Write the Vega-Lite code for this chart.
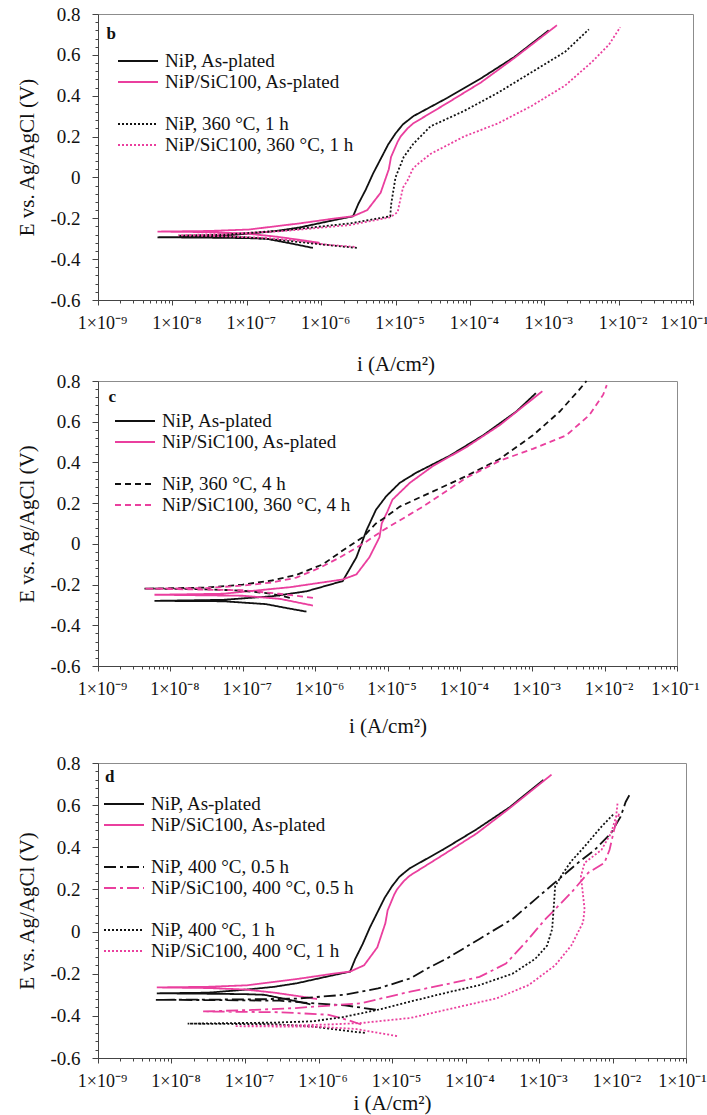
{
"$schema":"https://vega.github.io/schema/vega-lite/v6.json",
"padding":{"left":16,"top":4,"right":0,"bottom":2},
"config":{"font":"Liberation Serif","view":{"stroke":"#8c8c8c","strokeWidth":1},
"axis":{"grid":false,"domainColor":"#444","tickColor":"#444","labelColor":"#111","titleColor":"#111","labelFont":"Liberation Serif","titleFont":"Liberation Serif","labelFontSize":19,"titleFontSize":21,"titleFontWeight":"normal","labelFlush":false},
"axisX":{"labelFontSize":18},
"legend":{"labelFont":"Liberation Serif","labelFontSize":19,"labelColor":"#111","symbolType":"M-2,0H2","symbolSize":400,"symbolStrokeWidth":1.8,"rowPadding":0,"labelOffset":16,"padding":0,"labelLimit":400}},
"datasets":{
"b":[
{"s":"NiP, As-plated","o":1,"i":7.76e-7,"E":-0.345},{"s":"NiP, As-plated","o":2,"i":4.17e-7,"E":-0.325},{"s":"NiP, As-plated","o":3,"i":1.82e-7,"E":-0.30},{"s":"NiP, As-plated","o":4,"i":1e-7,"E":-0.297},{"s":"NiP, As-plated","o":5,"i":3.16e-8,"E":-0.295},{"s":"NiP, As-plated","o":6,"i":6.31e-9,"E":-0.293},{"s":"NiP, As-plated","o":7,"i":3.16e-8,"E":-0.29},{"s":"NiP, As-plated","o":8,"i":1.07e-7,"E":-0.275},{"s":"NiP, As-plated","o":9,"i":2.51e-7,"E":-0.262},{"s":"NiP, As-plated","o":10,"i":5.13e-7,"E":-0.245},{"s":"NiP, As-plated","o":11,"i":1.45e-6,"E":-0.21},{"s":"NiP, As-plated","o":12,"i":2.69e-6,"E":-0.19},{"s":"NiP, As-plated","o":13,"i":3.16e-6,"E":-0.13},{"s":"NiP, As-plated","o":14,"i":3.98e-6,"E":-0.06},{"s":"NiP, As-plated","o":15,"i":5.01e-6,"E":0.02},{"s":"NiP, As-plated","o":16,"i":6.31e-6,"E":0.09},{"s":"NiP, As-plated","o":17,"i":7.94e-6,"E":0.16},{"s":"NiP, As-plated","o":18,"i":1e-5,"E":0.215},{"s":"NiP, As-plated","o":19,"i":1.26e-5,"E":0.26},{"s":"NiP, As-plated","o":20,"i":1.74e-5,"E":0.30},{"s":"NiP, As-plated","o":21,"i":5.01e-5,"E":0.39},{"s":"NiP, As-plated","o":22,"i":1.41e-4,"E":0.485},{"s":"NiP, As-plated","o":23,"i":3.98e-4,"E":0.59},{"s":"NiP, As-plated","o":24,"i":1.15e-3,"E":0.72},
{"s":"NiP/SiC100, As-plated","o":1,"i":9.55e-7,"E":-0.32},{"s":"NiP/SiC100, As-plated","o":2,"i":5.01e-7,"E":-0.305},{"s":"NiP/SiC100, As-plated","o":3,"i":2.51e-7,"E":-0.29},{"s":"NiP/SiC100, As-plated","o":4,"i":1e-7,"E":-0.275},{"s":"NiP/SiC100, As-plated","o":5,"i":3.16e-8,"E":-0.268},{"s":"NiP/SiC100, As-plated","o":6,"i":6.31e-9,"E":-0.265},{"s":"NiP/SiC100, As-plated","o":7,"i":3.16e-8,"E":-0.262},{"s":"NiP/SiC100, As-plated","o":8,"i":1.07e-7,"E":-0.255},{"s":"NiP/SiC100, As-plated","o":9,"i":5.13e-7,"E":-0.225},{"s":"NiP/SiC100, As-plated","o":10,"i":1.58e-6,"E":-0.2},{"s":"NiP/SiC100, As-plated","o":11,"i":2.69e-6,"E":-0.19},{"s":"NiP/SiC100, As-plated","o":12,"i":4.17e-6,"E":-0.16},{"s":"NiP/SiC100, As-plated","o":13,"i":6.31e-6,"E":-0.075},{"s":"NiP/SiC100, As-plated","o":14,"i":8.13e-6,"E":0.04},{"s":"NiP/SiC100, As-plated","o":15,"i":8.71e-6,"E":0.1},{"s":"NiP/SiC100, As-plated","o":16,"i":1.07e-5,"E":0.175},{"s":"NiP/SiC100, As-plated","o":17,"i":1.17e-5,"E":0.2},{"s":"NiP/SiC100, As-plated","o":18,"i":1.45e-5,"E":0.24},{"s":"NiP/SiC100, As-plated","o":19,"i":1.74e-5,"E":0.265},{"s":"NiP/SiC100, As-plated","o":20,"i":5.01e-5,"E":0.365},{"s":"NiP/SiC100, As-plated","o":21,"i":1.41e-4,"E":0.465},{"s":"NiP/SiC100, As-plated","o":22,"i":3.98e-4,"E":0.585},{"s":"NiP/SiC100, As-plated","o":23,"i":1.48e-3,"E":0.745},
{"s":"NiP, 360 °C, 1 h","o":1,"i":3.02e-6,"E":-0.345},{"s":"NiP, 360 °C, 1 h","o":2,"i":1.58e-6,"E":-0.335},{"s":"NiP, 360 °C, 1 h","o":3,"i":6.31e-7,"E":-0.32},{"s":"NiP, 360 °C, 1 h","o":4,"i":2.51e-7,"E":-0.305},{"s":"NiP, 360 °C, 1 h","o":5,"i":1e-7,"E":-0.293},{"s":"NiP, 360 °C, 1 h","o":6,"i":3.16e-8,"E":-0.287},{"s":"NiP, 360 °C, 1 h","o":7,"i":1.2e-8,"E":-0.285},{"s":"NiP, 360 °C, 1 h","o":8,"i":5.01e-8,"E":-0.28},{"s":"NiP, 360 °C, 1 h","o":9,"i":3.02e-7,"E":-0.26},{"s":"NiP, 360 °C, 1 h","o":10,"i":2.45e-6,"E":-0.225},{"s":"NiP, 360 °C, 1 h","o":11,"i":8.51e-6,"E":-0.19},{"s":"NiP, 360 °C, 1 h","o":12,"i":8.71e-6,"E":-0.135},{"s":"NiP, 360 °C, 1 h","o":13,"i":1e-5,"E":0.0},{"s":"NiP, 360 °C, 1 h","o":14,"i":1.29e-5,"E":0.1},{"s":"NiP, 360 °C, 1 h","o":15,"i":1.74e-5,"E":0.165},{"s":"NiP, 360 °C, 1 h","o":16,"i":2.95e-5,"E":0.25},{"s":"NiP, 360 °C, 1 h","o":17,"i":8.32e-5,"E":0.325},{"s":"NiP, 360 °C, 1 h","o":18,"i":2.4e-4,"E":0.415},{"s":"NiP, 360 °C, 1 h","o":19,"i":6.76e-4,"E":0.515},{"s":"NiP, 360 °C, 1 h","o":20,"i":1.91e-3,"E":0.615},{"s":"NiP, 360 °C, 1 h","o":21,"i":3.98e-3,"E":0.725},
{"s":"NiP/SiC100, 360 °C, 1 h","o":1,"i":2.82e-6,"E":-0.34},{"s":"NiP/SiC100, 360 °C, 1 h","o":2,"i":1.26e-6,"E":-0.33},{"s":"NiP/SiC100, 360 °C, 1 h","o":3,"i":5.01e-7,"E":-0.31},{"s":"NiP/SiC100, 360 °C, 1 h","o":4,"i":1.58e-7,"E":-0.295},{"s":"NiP/SiC100, 360 °C, 1 h","o":5,"i":5.01e-8,"E":-0.288},{"s":"NiP/SiC100, 360 °C, 1 h","o":6,"i":1.2e-8,"E":-0.283},{"s":"NiP/SiC100, 360 °C, 1 h","o":7,"i":5.01e-8,"E":-0.277},{"s":"NiP/SiC100, 360 °C, 1 h","o":8,"i":3.02e-7,"E":-0.263},{"s":"NiP/SiC100, 360 °C, 1 h","o":9,"i":2.45e-6,"E":-0.233},{"s":"NiP/SiC100, 360 °C, 1 h","o":10,"i":8.51e-6,"E":-0.195},{"s":"NiP/SiC100, 360 °C, 1 h","o":11,"i":1.07e-5,"E":-0.17},{"s":"NiP/SiC100, 360 °C, 1 h","o":12,"i":1.12e-5,"E":-0.135},{"s":"NiP/SiC100, 360 °C, 1 h","o":13,"i":1.26e-5,"E":-0.05},{"s":"NiP/SiC100, 360 °C, 1 h","o":14,"i":1.45e-5,"E":-0.015},{"s":"NiP/SiC100, 360 °C, 1 h","o":15,"i":1.7e-5,"E":0.04},{"s":"NiP/SiC100, 360 °C, 1 h","o":16,"i":1.91e-5,"E":0.06},{"s":"NiP/SiC100, 360 °C, 1 h","o":17,"i":2.95e-5,"E":0.115},{"s":"NiP/SiC100, 360 °C, 1 h","o":18,"i":8.32e-5,"E":0.2},{"s":"NiP/SiC100, 360 °C, 1 h","o":19,"i":2.4e-4,"E":0.265},{"s":"NiP/SiC100, 360 °C, 1 h","o":20,"i":6.76e-4,"E":0.35},{"s":"NiP/SiC100, 360 °C, 1 h","o":21,"i":1.91e-3,"E":0.45},{"s":"NiP/SiC100, 360 °C, 1 h","o":22,"i":4.37e-3,"E":0.565},{"s":"NiP/SiC100, 360 °C, 1 h","o":23,"i":7.41e-3,"E":0.65},{"s":"NiP/SiC100, 360 °C, 1 h","o":24,"i":1.05e-2,"E":0.735}
],
"c":[
{"s":"NiP, As-plated","o":1,"i":7.59e-7,"E":-0.333},{"s":"NiP, As-plated","o":2,"i":3.98e-7,"E":-0.315},{"s":"NiP, As-plated","o":3,"i":2.09e-7,"E":-0.296},{"s":"NiP, As-plated","o":4,"i":5.37e-8,"E":-0.282},{"s":"NiP, As-plated","o":5,"i":6.03e-9,"E":-0.28},{"s":"NiP, As-plated","o":6,"i":5.37e-8,"E":-0.275},{"s":"NiP, As-plated","o":7,"i":2.63e-7,"E":-0.257},{"s":"NiP, As-plated","o":8,"i":7.59e-7,"E":-0.233},{"s":"NiP, As-plated","o":9,"i":2.4e-6,"E":-0.183},{"s":"NiP, As-plated","o":10,"i":3.72e-6,"E":-0.066},{"s":"NiP, As-plated","o":11,"i":5.13e-6,"E":0.067},{"s":"NiP, As-plated","o":12,"i":6.92e-6,"E":0.167},{"s":"NiP, As-plated","o":13,"i":9.55e-6,"E":0.233},{"s":"NiP, As-plated","o":14,"i":1.48e-5,"E":0.3},{"s":"NiP, As-plated","o":15,"i":2.51e-5,"E":0.35},{"s":"NiP, As-plated","o":16,"i":7.24e-5,"E":0.433},{"s":"NiP, As-plated","o":17,"i":2.09e-4,"E":0.533},{"s":"NiP, As-plated","o":18,"i":6.03e-4,"E":0.65},{"s":"NiP, As-plated","o":19,"i":1.12e-3,"E":0.74},
{"s":"NiP/SiC100, As-plated","o":1,"i":9.33e-7,"E":-0.303},{"s":"NiP/SiC100, As-plated","o":2,"i":3.24e-7,"E":-0.27},{"s":"NiP/SiC100, As-plated","o":3,"i":1e-7,"E":-0.255},{"s":"NiP/SiC100, As-plated","o":4,"i":6.03e-9,"E":-0.25},{"s":"NiP/SiC100, As-plated","o":5,"i":5.37e-8,"E":-0.245},{"s":"NiP/SiC100, As-plated","o":6,"i":4.47e-7,"E":-0.213},{"s":"NiP/SiC100, As-plated","o":7,"i":2.4e-6,"E":-0.175},{"s":"NiP/SiC100, As-plated","o":8,"i":3.72e-6,"E":-0.15},{"s":"NiP/SiC100, As-plated","o":9,"i":5.62e-6,"E":-0.066},{"s":"NiP/SiC100, As-plated","o":10,"i":7.76e-6,"E":0.033},{"s":"NiP/SiC100, As-plated","o":11,"i":8.32e-6,"E":0.1},{"s":"NiP/SiC100, As-plated","o":12,"i":1e-5,"E":0.16},{"s":"NiP/SiC100, As-plated","o":13,"i":1.17e-5,"E":0.217},{"s":"NiP/SiC100, As-plated","o":14,"i":2.04e-5,"E":0.3},{"s":"NiP/SiC100, As-plated","o":15,"i":4.27e-5,"E":0.383},{"s":"NiP/SiC100, As-plated","o":16,"i":1.23e-4,"E":0.475},{"s":"NiP/SiC100, As-plated","o":17,"i":3.55e-4,"E":0.583},{"s":"NiP/SiC100, As-plated","o":18,"i":1.38e-3,"E":0.75},
{"s":"NiP, 360 °C, 4 h","o":1,"i":4.47e-7,"E":-0.265},{"s":"NiP, 360 °C, 4 h","o":2,"i":2.51e-7,"E":-0.245},{"s":"NiP, 360 °C, 4 h","o":3,"i":1e-7,"E":-0.23},{"s":"NiP, 360 °C, 4 h","o":4,"i":2.51e-8,"E":-0.222},{"s":"NiP, 360 °C, 4 h","o":5,"i":4.37e-9,"E":-0.22},{"s":"NiP, 360 °C, 4 h","o":6,"i":3.16e-8,"E":-0.215},{"s":"NiP, 360 °C, 4 h","o":7,"i":1e-7,"E":-0.2},{"s":"NiP, 360 °C, 4 h","o":8,"i":2.51e-7,"E":-0.18},{"s":"NiP, 360 °C, 4 h","o":9,"i":5.5e-7,"E":-0.153},{"s":"NiP, 360 °C, 4 h","o":10,"i":1.29e-6,"E":-0.1},{"s":"NiP, 360 °C, 4 h","o":11,"i":2.4e-6,"E":-0.033},{"s":"NiP, 360 °C, 4 h","o":12,"i":4.57e-6,"E":0.033},{"s":"NiP, 360 °C, 4 h","o":13,"i":6.92e-6,"E":0.1},{"s":"NiP, 360 °C, 4 h","o":14,"i":9.55e-6,"E":0.133},{"s":"NiP, 360 °C, 4 h","o":15,"i":1.48e-5,"E":0.183},{"s":"NiP, 360 °C, 4 h","o":16,"i":4.27e-5,"E":0.258},{"s":"NiP, 360 °C, 4 h","o":17,"i":1.23e-4,"E":0.333},{"s":"NiP, 360 °C, 4 h","o":18,"i":3.55e-4,"E":0.417},{"s":"NiP, 360 °C, 4 h","o":19,"i":1.02e-3,"E":0.533},{"s":"NiP, 360 °C, 4 h","o":20,"i":2.4e-3,"E":0.65},{"s":"NiP, 360 °C, 4 h","o":21,"i":4.47e-3,"E":0.758},{"s":"NiP, 360 °C, 4 h","o":22,"i":5.62e-3,"E":0.8},
{"s":"NiP/SiC100, 360 °C, 4 h","o":1,"i":9.33e-7,"E":-0.265},{"s":"NiP/SiC100, 360 °C, 4 h","o":2,"i":3.16e-7,"E":-0.245},{"s":"NiP/SiC100, 360 °C, 4 h","o":3,"i":1e-7,"E":-0.228},{"s":"NiP/SiC100, 360 °C, 4 h","o":4,"i":4.37e-9,"E":-0.22},{"s":"NiP/SiC100, 360 °C, 4 h","o":5,"i":3.16e-8,"E":-0.217},{"s":"NiP/SiC100, 360 °C, 4 h","o":6,"i":1e-7,"E":-0.205},{"s":"NiP/SiC100, 360 °C, 4 h","o":7,"i":2.51e-7,"E":-0.19},{"s":"NiP/SiC100, 360 °C, 4 h","o":8,"i":5.5e-7,"E":-0.166},{"s":"NiP/SiC100, 360 °C, 4 h","o":9,"i":1.12e-6,"E":-0.12},{"s":"NiP/SiC100, 360 °C, 4 h","o":10,"i":2.19e-6,"E":-0.067},{"s":"NiP/SiC100, 360 °C, 4 h","o":11,"i":4.57e-6,"E":0.0},{"s":"NiP/SiC100, 360 °C, 4 h","o":12,"i":8.71e-6,"E":0.067},{"s":"NiP/SiC100, 360 °C, 4 h","o":13,"i":3.09e-5,"E":0.183},{"s":"NiP/SiC100, 360 °C, 4 h","o":14,"i":1.23e-4,"E":0.325},{"s":"NiP/SiC100, 360 °C, 4 h","o":15,"i":3.55e-4,"E":0.408},{"s":"NiP/SiC100, 360 °C, 4 h","o":16,"i":1.02e-3,"E":0.467},{"s":"NiP/SiC100, 360 °C, 4 h","o":17,"i":2.95e-3,"E":0.533},{"s":"NiP/SiC100, 360 °C, 4 h","o":18,"i":6.17e-3,"E":0.633},{"s":"NiP/SiC100, 360 °C, 4 h","o":19,"i":9.55e-3,"E":0.733},{"s":"NiP/SiC100, 360 °C, 4 h","o":20,"i":1.07e-2,"E":0.78}
],
"d":[
{"s":"NiP, As-plated","o":1,"i":7.76e-7,"E":-0.345},{"s":"NiP, As-plated","o":2,"i":4.17e-7,"E":-0.325},{"s":"NiP, As-plated","o":3,"i":1.82e-7,"E":-0.30},{"s":"NiP, As-plated","o":4,"i":1e-7,"E":-0.297},{"s":"NiP, As-plated","o":5,"i":3.16e-8,"E":-0.295},{"s":"NiP, As-plated","o":6,"i":6.31e-9,"E":-0.293},{"s":"NiP, As-plated","o":7,"i":3.16e-8,"E":-0.29},{"s":"NiP, As-plated","o":8,"i":1.07e-7,"E":-0.275},{"s":"NiP, As-plated","o":9,"i":2.51e-7,"E":-0.262},{"s":"NiP, As-plated","o":10,"i":5.13e-7,"E":-0.245},{"s":"NiP, As-plated","o":11,"i":1.45e-6,"E":-0.21},{"s":"NiP, As-plated","o":12,"i":2.69e-6,"E":-0.19},{"s":"NiP, As-plated","o":13,"i":3.16e-6,"E":-0.13},{"s":"NiP, As-plated","o":14,"i":3.98e-6,"E":-0.06},{"s":"NiP, As-plated","o":15,"i":5.01e-6,"E":0.02},{"s":"NiP, As-plated","o":16,"i":6.31e-6,"E":0.09},{"s":"NiP, As-plated","o":17,"i":7.94e-6,"E":0.16},{"s":"NiP, As-plated","o":18,"i":1e-5,"E":0.215},{"s":"NiP, As-plated","o":19,"i":1.26e-5,"E":0.26},{"s":"NiP, As-plated","o":20,"i":1.74e-5,"E":0.30},{"s":"NiP, As-plated","o":21,"i":5.01e-5,"E":0.39},{"s":"NiP, As-plated","o":22,"i":1.41e-4,"E":0.485},{"s":"NiP, As-plated","o":23,"i":3.98e-4,"E":0.59},{"s":"NiP, As-plated","o":24,"i":1.15e-3,"E":0.72},
{"s":"NiP/SiC100, As-plated","o":1,"i":9.55e-7,"E":-0.32},{"s":"NiP/SiC100, As-plated","o":2,"i":5.01e-7,"E":-0.305},{"s":"NiP/SiC100, As-plated","o":3,"i":2.51e-7,"E":-0.29},{"s":"NiP/SiC100, As-plated","o":4,"i":1e-7,"E":-0.275},{"s":"NiP/SiC100, As-plated","o":5,"i":3.16e-8,"E":-0.268},{"s":"NiP/SiC100, As-plated","o":6,"i":6.31e-9,"E":-0.265},{"s":"NiP/SiC100, As-plated","o":7,"i":3.16e-8,"E":-0.262},{"s":"NiP/SiC100, As-plated","o":8,"i":1.07e-7,"E":-0.255},{"s":"NiP/SiC100, As-plated","o":9,"i":5.13e-7,"E":-0.225},{"s":"NiP/SiC100, As-plated","o":10,"i":1.58e-6,"E":-0.2},{"s":"NiP/SiC100, As-plated","o":11,"i":2.69e-6,"E":-0.19},{"s":"NiP/SiC100, As-plated","o":12,"i":4.17e-6,"E":-0.16},{"s":"NiP/SiC100, As-plated","o":13,"i":6.31e-6,"E":-0.075},{"s":"NiP/SiC100, As-plated","o":14,"i":8.13e-6,"E":0.04},{"s":"NiP/SiC100, As-plated","o":15,"i":8.71e-6,"E":0.1},{"s":"NiP/SiC100, As-plated","o":16,"i":1.07e-5,"E":0.175},{"s":"NiP/SiC100, As-plated","o":17,"i":1.17e-5,"E":0.2},{"s":"NiP/SiC100, As-plated","o":18,"i":1.45e-5,"E":0.24},{"s":"NiP/SiC100, As-plated","o":19,"i":1.74e-5,"E":0.265},{"s":"NiP/SiC100, As-plated","o":20,"i":5.01e-5,"E":0.365},{"s":"NiP/SiC100, As-plated","o":21,"i":1.41e-4,"E":0.465},{"s":"NiP/SiC100, As-plated","o":22,"i":3.98e-4,"E":0.585},{"s":"NiP/SiC100, As-plated","o":23,"i":1.48e-3,"E":0.745},
{"s":"NiP, 400 °C, 0.5 h","o":1,"i":6.03e-6,"E":-0.371},{"s":"NiP, 400 °C, 0.5 h","o":2,"i":2.29e-6,"E":-0.35},{"s":"NiP, 400 °C, 0.5 h","o":3,"i":8.13e-7,"E":-0.34},{"s":"NiP, 400 °C, 0.5 h","o":4,"i":2.95e-7,"E":-0.328},{"s":"NiP, 400 °C, 0.5 h","o":5,"i":3.16e-8,"E":-0.325},{"s":"NiP, 400 °C, 0.5 h","o":6,"i":5.89e-9,"E":-0.324},{"s":"NiP, 400 °C, 0.5 h","o":7,"i":1e-7,"E":-0.322},{"s":"NiP, 400 °C, 0.5 h","o":8,"i":5.01e-7,"E":-0.318},{"s":"NiP, 400 °C, 0.5 h","o":9,"i":2.29e-6,"E":-0.3},{"s":"NiP, 400 °C, 0.5 h","o":10,"i":6.46e-6,"E":-0.27},{"s":"NiP, 400 °C, 0.5 h","o":11,"i":1.78e-5,"E":-0.222},{"s":"NiP, 400 °C, 0.5 h","o":12,"i":3.02e-5,"E":-0.175},{"s":"NiP, 400 °C, 0.5 h","o":13,"i":5.5e-5,"E":-0.129},{"s":"NiP, 400 °C, 0.5 h","o":14,"i":1.55e-4,"E":-0.035},{"s":"NiP, 400 °C, 0.5 h","o":15,"i":4.37e-4,"E":0.06},{"s":"NiP, 400 °C, 0.5 h","o":16,"i":8.91e-4,"E":0.153},{"s":"NiP, 400 °C, 0.5 h","o":17,"i":1.74e-3,"E":0.24},{"s":"NiP, 400 °C, 0.5 h","o":18,"i":3.39e-3,"E":0.326},{"s":"NiP, 400 °C, 0.5 h","o":19,"i":5.75e-3,"E":0.388},{"s":"NiP, 400 °C, 0.5 h","o":20,"i":9.55e-3,"E":0.467},{"s":"NiP, 400 °C, 0.5 h","o":21,"i":1.29e-2,"E":0.545},{"s":"NiP, 400 °C, 0.5 h","o":22,"i":1.51e-2,"E":0.615},{"s":"NiP, 400 °C, 0.5 h","o":23,"i":1.74e-2,"E":0.654},
{"s":"NiP/SiC100, 400 °C, 0.5 h","o":1,"i":3.8e-6,"E":-0.441},{"s":"NiP/SiC100, 400 °C, 0.5 h","o":2,"i":2.51e-6,"E":-0.42},{"s":"NiP/SiC100, 400 °C, 0.5 h","o":3,"i":1.38e-6,"E":-0.395},{"s":"NiP/SiC100, 400 °C, 0.5 h","o":4,"i":3.16e-7,"E":-0.383},{"s":"NiP/SiC100, 400 °C, 0.5 h","o":5,"i":2.63e-8,"E":-0.379},{"s":"NiP/SiC100, 400 °C, 0.5 h","o":6,"i":1.26e-7,"E":-0.372},{"s":"NiP/SiC100, 400 °C, 0.5 h","o":7,"i":4.9e-7,"E":-0.363},{"s":"NiP/SiC100, 400 °C, 0.5 h","o":8,"i":3.8e-6,"E":-0.34},{"s":"NiP/SiC100, 400 °C, 0.5 h","o":9,"i":1.78e-5,"E":-0.285},{"s":"NiP/SiC100, 400 °C, 0.5 h","o":10,"i":5.5e-5,"E":-0.25},{"s":"NiP/SiC100, 400 °C, 0.5 h","o":11,"i":1.55e-4,"E":-0.215},{"s":"NiP/SiC100, 400 °C, 0.5 h","o":12,"i":3.55e-4,"E":-0.152},{"s":"NiP/SiC100, 400 °C, 0.5 h","o":13,"i":6.61e-4,"E":-0.05},{"s":"NiP/SiC100, 400 °C, 0.5 h","o":14,"i":1.23e-3,"E":0.06},{"s":"NiP/SiC100, 400 °C, 0.5 h","o":15,"i":1.66e-3,"E":0.106},{"s":"NiP/SiC100, 400 °C, 0.5 h","o":16,"i":2.75e-3,"E":0.185},{"s":"NiP/SiC100, 400 °C, 0.5 h","o":17,"i":4.68e-3,"E":0.279},{"s":"NiP/SiC100, 400 °C, 0.5 h","o":18,"i":7.76e-3,"E":0.326},{"s":"NiP/SiC100, 400 °C, 0.5 h","o":19,"i":9.12e-3,"E":0.388},{"s":"NiP/SiC100, 400 °C, 0.5 h","o":20,"i":1.05e-2,"E":0.482},{"s":"NiP/SiC100, 400 °C, 0.5 h","o":21,"i":1.23e-2,"E":0.56},
{"s":"NiP, 400 °C, 1 h","o":1,"i":4.27e-6,"E":-0.481},{"s":"NiP, 400 °C, 1 h","o":2,"i":2e-6,"E":-0.468},{"s":"NiP, 400 °C, 1 h","o":3,"i":8.13e-7,"E":-0.45},{"s":"NiP, 400 °C, 1 h","o":4,"i":2.51e-7,"E":-0.44},{"s":"NiP, 400 °C, 1 h","o":5,"i":1.66e-8,"E":-0.437},{"s":"NiP, 400 °C, 1 h","o":6,"i":2.51e-7,"E":-0.432},{"s":"NiP, 400 °C, 1 h","o":7,"i":8.13e-7,"E":-0.426},{"s":"NiP, 400 °C, 1 h","o":8,"i":2.09e-6,"E":-0.407},{"s":"NiP, 400 °C, 1 h","o":9,"i":6.46e-6,"E":-0.371},{"s":"NiP, 400 °C, 1 h","o":10,"i":1.78e-5,"E":-0.332},{"s":"NiP, 400 °C, 1 h","o":11,"i":5.5e-5,"E":-0.29},{"s":"NiP, 400 °C, 1 h","o":12,"i":1.55e-4,"E":-0.254},{"s":"NiP, 400 °C, 1 h","o":13,"i":4.37e-4,"E":-0.2},{"s":"NiP, 400 °C, 1 h","o":14,"i":8.91e-4,"E":-0.129},{"s":"NiP, 400 °C, 1 h","o":15,"i":1.29e-3,"E":-0.066},{"s":"NiP, 400 °C, 1 h","o":16,"i":1.51e-3,"E":0.012},{"s":"NiP, 400 °C, 1 h","o":17,"i":1.58e-3,"E":0.106},{"s":"NiP, 400 °C, 1 h","o":18,"i":1.66e-3,"E":0.216},{"s":"NiP, 400 °C, 1 h","o":19,"i":2.14e-3,"E":0.279},{"s":"NiP, 400 °C, 1 h","o":20,"i":2.75e-3,"E":0.334},{"s":"NiP, 400 °C, 1 h","o":21,"i":4.17e-3,"E":0.404},{"s":"NiP, 400 °C, 1 h","o":22,"i":7.08e-3,"E":0.498},{"s":"NiP, 400 °C, 1 h","o":23,"i":1.05e-2,"E":0.56},
{"s":"NiP/SiC100, 400 °C, 1 h","o":1,"i":1.17e-5,"E":-0.496},{"s":"NiP/SiC100, 400 °C, 1 h","o":2,"i":6.31e-6,"E":-0.48},{"s":"NiP/SiC100, 400 °C, 1 h","o":3,"i":3.16e-6,"E":-0.462},{"s":"NiP/SiC100, 400 °C, 1 h","o":4,"i":1e-6,"E":-0.452},{"s":"NiP/SiC100, 400 °C, 1 h","o":5,"i":7.24e-8,"E":-0.449},{"s":"NiP/SiC100, 400 °C, 1 h","o":6,"i":5.01e-7,"E":-0.445},{"s":"NiP/SiC100, 400 °C, 1 h","o":7,"i":1.38e-6,"E":-0.441},{"s":"NiP/SiC100, 400 °C, 1 h","o":8,"i":3.8e-6,"E":-0.434},{"s":"NiP/SiC100, 400 °C, 1 h","o":9,"i":1.78e-5,"E":-0.41},{"s":"NiP/SiC100, 400 °C, 1 h","o":10,"i":5.5e-5,"E":-0.371},{"s":"NiP/SiC100, 400 °C, 1 h","o":11,"i":2.63e-4,"E":-0.317},{"s":"NiP/SiC100, 400 °C, 1 h","o":12,"i":7.24e-4,"E":-0.254},{"s":"NiP/SiC100, 400 °C, 1 h","o":13,"i":1.66e-3,"E":-0.16},{"s":"NiP/SiC100, 400 °C, 1 h","o":14,"i":2.75e-3,"E":-0.066},{"s":"NiP/SiC100, 400 °C, 1 h","o":15,"i":3.98e-3,"E":0.044},{"s":"NiP/SiC100, 400 °C, 1 h","o":16,"i":4.17e-3,"E":0.106},{"s":"NiP/SiC100, 400 °C, 1 h","o":17,"i":3.72e-3,"E":0.263},{"s":"NiP/SiC100, 400 °C, 1 h","o":18,"i":4.17e-3,"E":0.326},{"s":"NiP/SiC100, 400 °C, 1 h","o":19,"i":7.08e-3,"E":0.388},{"s":"NiP/SiC100, 400 °C, 1 h","o":20,"i":9.55e-3,"E":0.467},{"s":"NiP/SiC100, 400 °C, 1 h","o":21,"i":1.12e-2,"E":0.545},{"s":"NiP/SiC100, 400 °C, 1 h","o":22,"i":1.17e-2,"E":0.607}
]},
"spacing":16,
"resolve":{"scale":{"color":"independent","strokeDash":"independent","x":"independent","y":"independent"},"legend":{"color":"independent","strokeDash":"independent"}},
"vconcat":[
{"spacing":-4,
"resolve":{"scale":{"color":"independent","strokeDash":"independent","x":"independent","y":"independent"},"legend":{"color":"independent","strokeDash":"independent"}},
"vconcat":[
{"width":595,"height":286,
"resolve":{"axis":{"y":"independent"}},
"layer":[
{"data":{"name":"b"},"mark":{"type":"line","strokeWidth":1.8},
"encoding":{
"x":{"field":"i","type":"quantitative","scale":{"type":"log","domain":[1e-9,0.1]},"axis":{"title":"i (A/cm²)","values":[1e-9,2e-9,3e-9,4e-9,5e-9,6e-9,7e-9,8e-9,9e-9,1e-8,2e-8,3e-8,4e-8,5e-8,6e-8,7e-8,8e-8,9e-8,1e-7,2e-7,3e-7,4e-7,5e-7,6e-7,7e-7,8e-7,9e-7,1e-6,2e-6,3e-6,4e-6,5e-6,6e-6,7e-6,8e-6,9e-6,1e-5,2e-5,3e-5,4e-5,5e-5,6e-5,7e-5,8e-5,9e-5,1e-4,2e-4,3e-4,4e-4,5e-4,6e-4,7e-4,8e-4,9e-4,1e-3,2e-3,3e-3,4e-3,5e-3,6e-3,7e-3,8e-3,9e-3,1e-2,2e-2,3e-2,4e-2,5e-2,6e-2,7e-2,8e-2,9e-2,0.1],"labelExpr":"abs(log(datum.value)/LN10 - round(log(datum.value)/LN10)) < 0.01 ? '1×10' + ['⁰','⁻¹','⁻²','⁻³','⁻⁴','⁻⁵','⁻⁶','⁻⁷','⁻⁸','⁻⁹'][-round(log(datum.value)/LN10)] : ''","tickSize":{"condition":{"test":"abs(log(datum.value)/LN10 - round(log(datum.value)/LN10)) < 0.01","value":5},"value":3},"labelOffset":{"condition":{"test":"datum.value > 0.05","value":-9},"value":4},"labelPadding":9,"titlePadding":21}},
"y":{"field":"E","type":"quantitative","scale":{"domain":[-0.6,0.8],"nice":false,"zero":false},"axis":{"title":"E vs. Ag/AgCl (V)","values":[-0.6,-0.4,-0.2,0,0.2,0.4,0.6,0.8],"labelExpr":"datum.value == 0 ? '0' : replace(format(datum.value, '.1f'), '−', '-')","tickSize":6,"labelPadding":12,"titlePadding":12}},
"color":{"field":"s","type":"nominal","scale":{"domain":["NiP, As-plated","NiP/SiC100, As-plated"," ","NiP, 360 °C, 1 h","NiP/SiC100, 360 °C, 1 h"],"range":["#111111","#ea3f9e","transparent","#111111","#ea3f9e"]},"legend":{"title":null,"orient":"none","legendX":29,"legendY":36}},
"strokeDash":{"field":"s","type":"nominal","scale":{"domain":["NiP, As-plated","NiP/SiC100, As-plated"," ","NiP, 360 °C, 1 h","NiP/SiC100, 360 °C, 1 h"],"range":[[1,0],[1,0],[1,0],[2,2],[2,2]]},"legend":{"title":null,"orient":"none","legendX":29,"legendY":36}},
"order":{"field":"o","type":"quantitative"}}},
{"data":{"values":[{}]},"mark":{"type":"text","text":"b","fontWeight":"bold","fontSize":17,"align":"left","baseline":"middle","color":"#111"},
"encoding":{"x":{"datum":1.3e-9,"type":"quantitative"},"y":{"datum":0.70,"type":"quantitative","axis":{"orient":"left","values":[-0.56,-0.52,-0.48,-0.44,-0.36,-0.32,-0.28,-0.24,-0.16,-0.12,-0.08,-0.04,0.04,0.08,0.12,0.16,0.24,0.28,0.32,0.36,0.44,0.48,0.52,0.56,0.64,0.68,0.72,0.76],"labels":false,"domain":false,"title":null,"tickSize":3}}}}
]},
{"width":579,"height":285,
"resolve":{"axis":{"y":"independent"}},
"layer":[
{"data":{"name":"c"},"mark":{"type":"line","strokeWidth":1.8},
"encoding":{
"x":{"field":"i","type":"quantitative","scale":{"type":"log","domain":[1e-9,0.1]},"axis":{"title":"i (A/cm²)","values":[1e-9,2e-9,3e-9,4e-9,5e-9,6e-9,7e-9,8e-9,9e-9,1e-8,2e-8,3e-8,4e-8,5e-8,6e-8,7e-8,8e-8,9e-8,1e-7,2e-7,3e-7,4e-7,5e-7,6e-7,7e-7,8e-7,9e-7,1e-6,2e-6,3e-6,4e-6,5e-6,6e-6,7e-6,8e-6,9e-6,1e-5,2e-5,3e-5,4e-5,5e-5,6e-5,7e-5,8e-5,9e-5,1e-4,2e-4,3e-4,4e-4,5e-4,6e-4,7e-4,8e-4,9e-4,1e-3,2e-3,3e-3,4e-3,5e-3,6e-3,7e-3,8e-3,9e-3,1e-2,2e-2,3e-2,4e-2,5e-2,6e-2,7e-2,8e-2,9e-2,0.1],"labelExpr":"abs(log(datum.value)/LN10 - round(log(datum.value)/LN10)) < 0.01 ? '1×10' + ['⁰','⁻¹','⁻²','⁻³','⁻⁴','⁻⁵','⁻⁶','⁻⁷','⁻⁸','⁻⁹'][-round(log(datum.value)/LN10)] : ''","tickSize":{"condition":{"test":"abs(log(datum.value)/LN10 - round(log(datum.value)/LN10)) < 0.01","value":5},"value":3},"labelOffset":{"condition":{"test":"datum.value > 0.05","value":-2},"value":4},"labelPadding":9,"titlePadding":17}},
"y":{"field":"E","type":"quantitative","scale":{"domain":[-0.6,0.8],"nice":false,"zero":false},"axis":{"title":"E vs. Ag/AgCl (V)","values":[-0.6,-0.4,-0.2,0,0.2,0.4,0.6,0.8],"labelExpr":"datum.value == 0 ? '0' : replace(format(datum.value, '.1f'), '−', '-')","tickSize":6,"labelPadding":12,"titlePadding":12}},
"color":{"field":"s","type":"nominal","scale":{"domain":["NiP, As-plated","NiP/SiC100, As-plated"," ","NiP, 360 °C, 4 h","NiP/SiC100, 360 °C, 4 h"],"range":["#111111","#ea3f9e","transparent","#111111","#ea3f9e"]},"legend":{"title":null,"orient":"none","legendX":26,"legendY":29}},
"strokeDash":{"field":"s","type":"nominal","scale":{"domain":["NiP, As-plated","NiP/SiC100, As-plated"," ","NiP, 360 °C, 4 h","NiP/SiC100, 360 °C, 4 h"],"range":[[1,0],[1,0],[1,0],[6,4],[6,4]]},"legend":{"title":null,"orient":"none","legendX":26,"legendY":29}},
"order":{"field":"o","type":"quantitative"}}},
{"data":{"values":[{}]},"mark":{"type":"text","text":"c","fontWeight":"bold","fontSize":17,"align":"left","baseline":"middle","color":"#111"},
"encoding":{"x":{"datum":1.4e-9,"type":"quantitative"},"y":{"datum":0.72,"type":"quantitative","axis":{"orient":"left","values":[-0.56,-0.52,-0.48,-0.44,-0.36,-0.32,-0.28,-0.24,-0.16,-0.12,-0.08,-0.04,0.04,0.08,0.12,0.16,0.24,0.28,0.32,0.36,0.44,0.48,0.52,0.56,0.64,0.68,0.72,0.76],"labels":false,"domain":false,"title":null,"tickSize":3}}}}
]}
]},
{"width":588,"height":295,
"resolve":{"axis":{"y":"independent"}},
"layer":[
{"data":{"name":"d"},"mark":{"type":"line","strokeWidth":1.8},
"encoding":{
"x":{"field":"i","type":"quantitative","scale":{"type":"log","domain":[1e-9,0.1]},"axis":{"title":"i (A/cm²)","values":[1e-9,2e-9,3e-9,4e-9,5e-9,6e-9,7e-9,8e-9,9e-9,1e-8,2e-8,3e-8,4e-8,5e-8,6e-8,7e-8,8e-8,9e-8,1e-7,2e-7,3e-7,4e-7,5e-7,6e-7,7e-7,8e-7,9e-7,1e-6,2e-6,3e-6,4e-6,5e-6,6e-6,7e-6,8e-6,9e-6,1e-5,2e-5,3e-5,4e-5,5e-5,6e-5,7e-5,8e-5,9e-5,1e-4,2e-4,3e-4,4e-4,5e-4,6e-4,7e-4,8e-4,9e-4,1e-3,2e-3,3e-3,4e-3,5e-3,6e-3,7e-3,8e-3,9e-3,1e-2,2e-2,3e-2,4e-2,5e-2,6e-2,7e-2,8e-2,9e-2,0.1],"labelExpr":"abs(log(datum.value)/LN10 - round(log(datum.value)/LN10)) < 0.01 ? '1×10' + ['⁰','⁻¹','⁻²','⁻³','⁻⁴','⁻⁵','⁻⁶','⁻⁷','⁻⁸','⁻⁹'][-round(log(datum.value)/LN10)] : ''","tickSize":{"condition":{"test":"abs(log(datum.value)/LN10 - round(log(datum.value)/LN10)) < 0.01","value":5},"value":3},"labelOffset":{"condition":{"test":"datum.value > 0.05","value":-4},"value":4},"labelPadding":9,"titlePadding":2}},
"y":{"field":"E","type":"quantitative","scale":{"domain":[-0.6,0.8],"nice":false,"zero":false},"axis":{"title":"E vs. Ag/AgCl (V)","values":[-0.6,-0.4,-0.2,0,0.2,0.4,0.6,0.8],"labelExpr":"datum.value == 0 ? '0' : replace(format(datum.value, '.1f'), '−', '-')","tickSize":6,"labelPadding":12,"titlePadding":12}},
"color":{"field":"s","type":"nominal","scale":{"domain":["NiP, As-plated","NiP/SiC100, As-plated"," ","NiP, 400 °C, 0.5 h","NiP/SiC100, 400 °C, 0.5 h","  ","NiP, 400 °C, 1 h","NiP/SiC100, 400 °C, 1 h"],"range":["#111111","#ea3f9e","transparent","#111111","#ea3f9e","transparent","#111111","#ea3f9e"]},"legend":{"title":null,"orient":"none","legendX":15,"legendY":30}},
"strokeDash":{"field":"s","type":"nominal","scale":{"domain":["NiP, As-plated","NiP/SiC100, As-plated"," ","NiP, 400 °C, 0.5 h","NiP/SiC100, 400 °C, 0.5 h","  ","NiP, 400 °C, 1 h","NiP/SiC100, 400 °C, 1 h"],"range":[[1,0],[1,0],[1,0],[12,4,3,4],[12,4,3,4],[1,0],[2,2],[2,2]]},"legend":{"title":null,"orient":"none","legendX":15,"legendY":30}},
"order":{"field":"o","type":"quantitative"}}},
{"data":{"values":[{}]},"mark":{"type":"text","text":"d","fontWeight":"bold","fontSize":17,"align":"left","baseline":"middle","color":"#111"},
"encoding":{"x":{"datum":1.25e-9,"type":"quantitative"},"y":{"datum":0.735,"type":"quantitative","axis":{"orient":"left","values":[-0.56,-0.52,-0.48,-0.44,-0.36,-0.32,-0.28,-0.24,-0.16,-0.12,-0.08,-0.04,0.04,0.08,0.12,0.16,0.24,0.28,0.32,0.36,0.44,0.48,0.52,0.56,0.64,0.68,0.72,0.76],"labels":false,"domain":false,"title":null,"tickSize":3}}}}
]}
]
}
